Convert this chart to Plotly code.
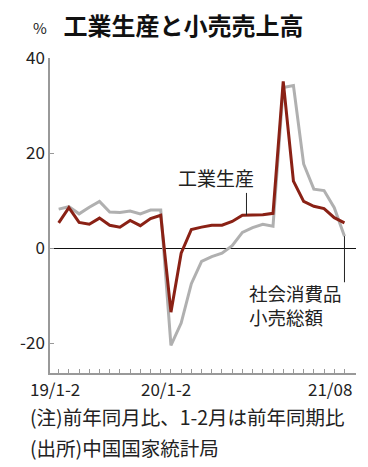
import plotly.graph_objects as go

categories = (["19/1-2"] + [f"19/{m:02d}" for m in range(3, 13)]
              + ["20/1-2"] + [f"20/{m:02d}" for m in range(3, 13)]
              + ["21/1-2"] + [f"21/{m:02d}" for m in range(3, 9)])

industrial = [5.3, 8.5, 5.4, 5.0, 6.3, 4.8, 4.4, 5.8, 4.7, 6.2, 6.9,
              -13.5, -1.1, 3.9, 4.4, 4.8, 4.8, 5.6, 6.9, 6.9, 7.0, 7.3,
              35.1, 14.1, 9.8, 8.8, 8.3, 6.4, 5.3]
retail = [8.2, 8.7, 7.2, 8.6, 9.8, 7.6, 7.5, 7.8, 7.2, 8.0, 8.0,
          -20.5, -15.8, -7.5, -2.8, -1.8, -1.1, 0.5, 3.3, 4.3, 5.0, 4.6,
          33.8, 34.2, 17.7, 12.4, 12.1, 8.5, 2.5]

x_labels = ["19/1-2", "20/1-2", "21/08"]
y_ticks = [-20, 0, 20, 40]

FONT = "Noto Sans CJK JP"
RED = "#8a2115"
GRAY = "#b0b0b0"
AXIS = "#999999"
TXT = "#222222"

# page body has an 8px margin; plot area spans page px x 40..356, y 58..373
OFF = 8
W, H = 368 - OFF, 467 - OFF
PL, PR, PT, PB = 40 - OFF, 356 - OFF, 58 - OFF, 373 - OFF


def px(p):  # page x pixel -> paper x
    return (p - OFF - PL) / (PR - PL)


def py(p):  # page y pixel -> paper y
    return (PB - (p - OFF)) / (PB - PT)


fig = go.Figure()
fig.add_trace(go.Scatter(x=categories, y=retail, mode="lines",
                         line=dict(color=GRAY, width=3), hoverinfo="skip"))
fig.add_trace(go.Scatter(x=categories, y=industrial, mode="lines",
                         line=dict(color=RED, width=3), hoverinfo="skip"))

fig.update_layout(
    width=W, height=H,
    margin=dict(l=PL, r=W - PR, t=PT, b=H - PB),
    paper_bgcolor="white", plot_bgcolor="white",
    showlegend=False,
    font=dict(family=FONT, color=TXT),
    title=dict(text="<b>工業生産と小売売上高</b>", xref="container", yref="container",
               x=(183.5 - OFF) / W, xanchor="center",
               y=1 - (27 - OFF) / H, yanchor="middle",
               font=dict(size=24, family=FONT, color="#111111")),
    xaxis=dict(type="category", categoryorder="array", categoryarray=categories,
               range=[-0.85, 29.13], showgrid=False, zeroline=False,
               showline=True, linecolor=AXIS, linewidth=1.5,
               ticks="inside", ticklen=4, tickcolor=AXIS, tickwidth=1,
               tickvals=categories, showticklabels=False),
    yaxis=dict(range=[-26.3, 40], showgrid=False,
               zeroline=True, zerolinecolor="#111111", zerolinewidth=1,
               showline=True, linecolor=AXIS, linewidth=1.5,
               ticks="inside", ticklen=4, tickcolor=AXIS,
               tickvals=y_ticks, ticktext=[str(v) for v in y_ticks],
               tickfont=dict(size=17, family=FONT, color=TXT)),
)

shifts = {"19/1-2": -4, "20/1-2": -5, "21/08": -14}
for lab in x_labels:
    fig.add_annotation(x=lab, y=0, xref="x", yref="paper", yanchor="top",
                       yshift=-1, xshift=shifts[lab], text=lab, showarrow=False,
                       font=dict(size=17, family=FONT, color=TXT))

# unit
fig.add_annotation(x=px(30), y=py(28), xref="paper", yref="paper",
                   xanchor="center", yanchor="middle", showarrow=False, text="%",
                   font=dict(size=15, family=FONT, color=TXT))

# series labels
fig.add_annotation(x=15.4, y=14.9, xref="x", yref="y", showarrow=False,
                   text="工業生産", xanchor="center", yanchor="middle",
                   font=dict(size=19, family=FONT, color=TXT))
fig.add_shape(type="line", x0=18.4, x1=18.4, y0=6.9, y1=11.6, xref="x", yref="y",
              line=dict(color=TXT, width=1))
fig.add_shape(type="line", x0=28, x1=28, y0=2.5, y1=-7.2, xref="x", yref="y",
              line=dict(color=TXT, width=1))
fig.add_annotation(x=28, y=-11.9, xref="x", yref="y", showarrow=False,
                   text="社会消費品<br>小売総額", xanchor="right", yanchor="middle",
                   align="left",
                   font=dict(size=18.5, family=FONT, color=TXT))

# footnotes
fig.add_annotation(x=px(17), y=py(416), xref="paper", yref="paper",
                   xanchor="left", yanchor="middle", showarrow=False,
                   text="(注)前年同月比、1-2月は前年同期比",
                   font=dict(size=19.5, family=FONT, color=TXT))
fig.add_annotation(x=px(17), y=py(447), xref="paper", yref="paper",
                   xanchor="left", yanchor="middle", showarrow=False,
                   text="(出所)中国国家統計局",
                   font=dict(size=19.5, family=FONT, color=TXT))

fig.write_html("out.html")
